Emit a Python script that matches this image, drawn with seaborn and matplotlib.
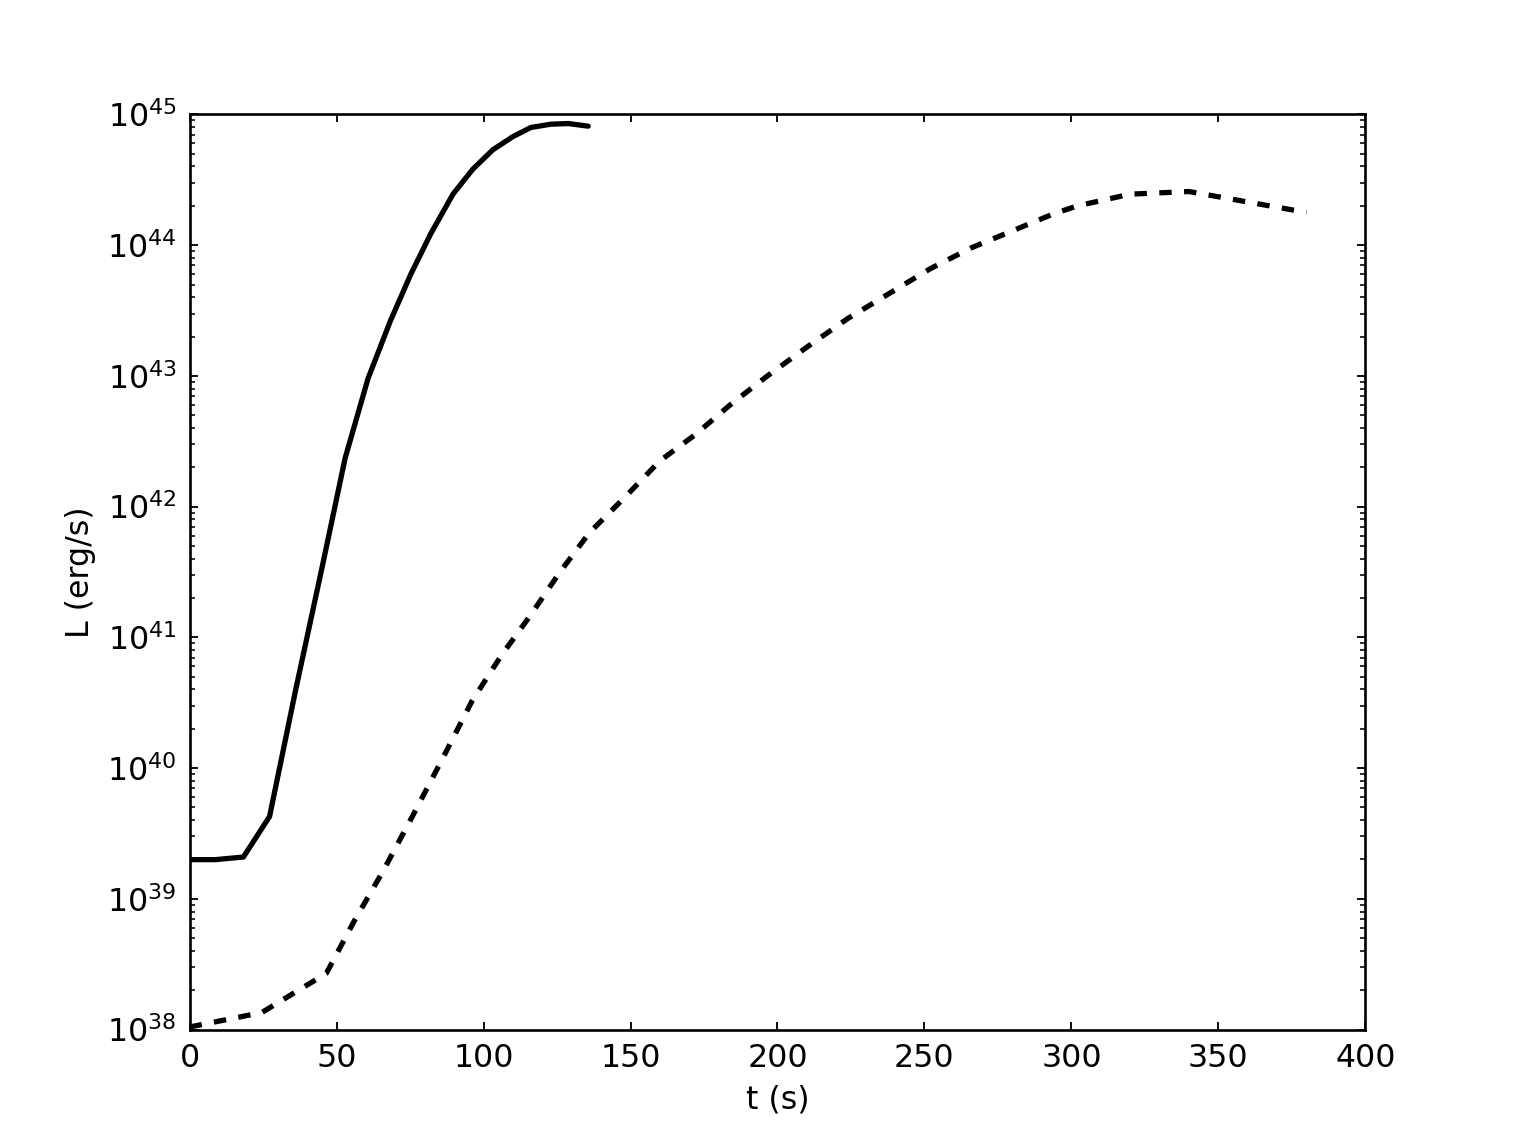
import numpy as np
import pandas as pd
import matplotlib
matplotlib.use("Agg")
import matplotlib.pyplot as plt
import seaborn as sns
from matplotlib.ticker import (LogLocator, NullLocator, NullFormatter,
                               LogFormatterSciNotation)

# ---- data (luminosities stored as log10) ----
t_solid = [0, 8.8, 18.3, 27.2, 36.0, 45.3, 52.9, 60.7, 68.3, 75.3, 82.1, 89.6,
           96.3, 103.2, 110.0, 116.1, 122.9, 128.8, 135.6]
logL_solid = [39.30, 39.30, 39.32, 39.63, 40.59, 41.56, 42.37, 42.98, 43.42, 43.78,
              44.09, 44.39, 44.58, 44.73, 44.83, 44.90, 44.925, 44.93, 44.91]

t_dashed = [0, 24.5, 46.5, 56, 66, 76, 86, 96, 106, 116, 126, 136, 148, 160, 172,
            184, 196, 210, 224, 238, 252, 266, 280, 294, 302, 320, 340, 380]
logL_dashed = [38.02, 38.13, 38.43, 38.83, 39.22, 39.64, 40.07, 40.51, 40.86, 41.17,
               41.50, 41.80, 42.07, 42.35, 42.55, 42.78, 42.99, 43.22, 43.44, 43.63,
               43.82, 43.98, 44.11, 44.24, 44.30, 44.39, 44.41, 44.25]

x_ticks = [0, 50, 100, 150, 200, 250, 300, 350, 400]
x_label = "t (s)"
y_label = "L (erg/s)"

solid = pd.DataFrame({"t": t_solid, "L": np.power(10.0, logL_solid)})
dashed = pd.DataFrame({"t": t_dashed, "L": np.power(10.0, logL_dashed)})

# ---- style ----
sns.set_style("white")
plt.rcParams.update({
    "font.family": ["DejaVu Sans"],
    "font.size": 12,
    "mathtext.default": "regular",
    "lines.scale_dashes": False,
    "axes.edgecolor": "black",
    "axes.linewidth": 1.0,
    "text.color": "black",
    "axes.labelcolor": "black",
    "xtick.color": "black",
    "ytick.color": "black",
    "xtick.labelcolor": "black",
    "ytick.labelcolor": "black",
})

DPI = 190
fig = plt.figure(figsize=(1517 / DPI, 1144 / DPI), dpi=DPI)
ax = fig.add_axes([0.125, 0.1, 0.775, 0.8])

sns.lineplot(data=solid, x="t", y="L", ax=ax, color="black", linewidth=2, sort=False)
sns.lineplot(data=dashed, x="t", y="L", ax=ax, color="black", linewidth=2, sort=False)
ax.lines[1].set_dashes((4.7, 4.7))

ax.set_yscale("log")
ax.set_xlim(0, 400)
ax.set_ylim(1e38, 1e45)
ax.set_xticks(x_ticks)
ax.set_xticklabels([str(v) for v in x_ticks])
ax.xaxis.set_minor_locator(NullLocator())
ax.yaxis.set_major_locator(LogLocator(base=10, numticks=20))
ax.yaxis.set_minor_locator(LogLocator(base=10, subs=np.arange(2, 10), numticks=100))
ax.yaxis.set_major_formatter(LogFormatterSciNotation())
ax.yaxis.set_minor_formatter(NullFormatter())

ax.tick_params(which="both", direction="in", top=True, right=True,
               bottom=True, left=True, color="black", labelcolor="black",
               labelsize=12)
ax.tick_params(which="major", length=3.2, width=0.7, pad=5)
ax.tick_params(which="minor", length=1.9, width=0.6)

for s in ax.spines.values():
    s.set_visible(True)
    s.set_color("black")
    s.set_linewidth(1.0)

ax.set_xlabel(x_label, fontsize=12, color="black")
ax.set_ylabel(y_label, fontsize=12, color="black")

fig.savefig("out.png", dpi=DPI, facecolor="white")
